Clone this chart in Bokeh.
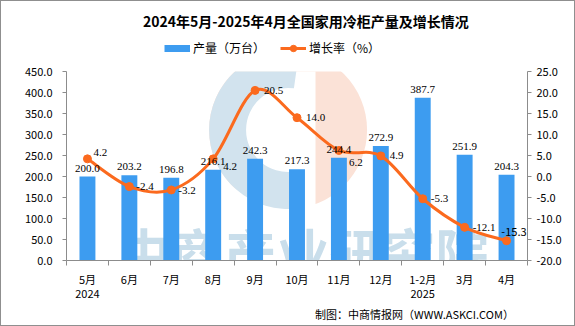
import numpy as np
from bokeh.plotting import figure
from bokeh.layouts import column
from bokeh.models import (Range1d, LinearAxis, FixedTicker, PrintfTickFormatter,
                          ColumnDataSource, LabelSet, Label, Legend, LegendItem)
from bokeh.embed import file_html
from bokeh.resources import INLINE

# ---------------- data ----------------
months = ["5月", "6月", "7月", "8月", "9月", "10月", "11月", "12月", "1-2月", "3月", "4月"]
years = ["2024", "", "", "", "", "", "", "", "2025", "", ""]
production = [200.0, 203.2, 196.8, 216.1, 242.3, 217.3, 244.4, 272.9, 387.7, 251.9, 204.3]
growth = [4.2, -2.4, -3.2, 4.2, 20.5, 14.0, 6.2, 4.9, -5.3, -12.1, -15.3]
left_ticks = [0, 50, 100, 150, 200, 250, 300, 350, 400, 450]
right_ticks = [-20, -15, -10, -5, 0, 5, 10, 15, 20, 25]

title_text = "2024年5月-2025年4月全国家用冷柜产量及增长情况"
source_text = "制图：中商情报网（WWW.ASKCI.COM）"
bar_name = "产量（万台）"
line_name = "增长率（%）"
watermark = "中商产业研究院"

FONT = "Noto Sans CJK SC"
BLUE = "#3d9cf0"
ORANGE = "#fb6a1e"
AXIS = "#8c8c8c"
W = 573

n = len(months)
xs = list(range(n))

# label nudges (screen px, upward positive) used to avoid label collisions
growth_label_dy = [6, 0, -1, -8, 0, 0, -12, 0, 0, 0, 0]
growth_label_dx = [6, 7, 7, 10, 9, 9, 10, 9, 8, 8, 7]


def strip(h):
    f = figure(width=W, height=h, output_backend="svg", toolbar_location=None,
               title_location=None, x_range=Range1d(0, W), y_range=Range1d(0, h),
               x_axis_location=None, y_axis_location=None,
               min_border=0, min_border_left=0, min_border_right=0,
               min_border_top=0, min_border_bottom=0)
    f.outline_line_color = None
    f.grid.visible = False
    f.background_fill_color = "white"
    f.border_fill_color = "white"
    return f


# ---------------- header: title + legend ----------------
HEAD_H = 56
head = strip(HEAD_H)
head.add_layout(Label(x=95, y=HEAD_H - 19, text=title_text, text_font=FONT,
                      text_font_size="14px", text_font_style="bold", text_color="black",
                      text_align="left", text_baseline="middle"))
proxy = ColumnDataSource(dict(x=[0.0], y=[np.nan]))
d_bar = head.line(x="x", y="y", source=proxy, line_color=BLUE, line_width=7, line_cap="butt")
d_line = head.line(x="x", y="y", source=proxy, line_color=ORANGE, line_width=3)
d_pt = head.scatter(x="x", y="y", source=proxy, size=8, fill_color=ORANGE, line_color=ORANGE)
leg_style = dict(orientation="horizontal", glyph_width=26, glyph_height=16, label_height=16,
                 label_standoff=3, spacing=0, padding=0, margin=0, border_line_color=None,
                 background_fill_alpha=0, label_text_font=FONT,
                 label_text_font_size="12px", label_text_color="black")
head.add_layout(Legend(items=[LegendItem(label=bar_name, renderers=[d_bar])],
                       location=(98, 1), **leg_style))
head.add_layout(Legend(items=[LegendItem(label=line_name, renderers=[d_line, d_pt])],
                       location=(214, 1), **leg_style))

# ---------------- main chart ----------------
MAIN_H = 246
fig = figure(width=W, height=MAIN_H, output_backend="svg", toolbar_location=None,
             title_location=None,
             x_range=Range1d(-0.5, n - 0.5), y_range=Range1d(0, 450),
             min_border_left=65, min_border_right=47, min_border_top=14,
             min_border_bottom=38)
fig.extra_y_ranges = {"r": Range1d(-20, 25)}
fig.outline_line_color = None
fig.grid.visible = False
fig.background_fill_color = "white"
fig.border_fill_color = "white"

# watermark logo (decoration)
cx_logo = (287 - 66) / 41.8 - 0.5
cy_logo = (265 - 131) / 194 * 450
fig.circle(x=[cx_logo], y=[cy_logo], radius=79, radius_units="screen",
           fill_color="#fbe2d7", line_color=None)
fig.rect(x=[cx_logo - 0.3], y=[cy_logo], width=80, height=170, width_units="screen",
         height_units="screen", fill_color="white", line_color=None)
fig.annular_wedge(x=[cx_logo], y=[cy_logo], inner_radius=42, outer_radius=79,
                  inner_radius_units="screen", outer_radius_units="screen",
                  start_angle=np.deg2rad(82), end_angle=np.deg2rad(278),
                  fill_color="#d2e3ee", line_color=None)
fig.add_layout(Label(x=51, y=10, x_units="screen", y_units="screen", text=watermark,
                     text_font=FONT, text_font_size="53px", text_font_style="bold",
                     text_color="#c9deeb", text_align="left", text_baseline="middle",
                     level="underlay"))

src = ColumnDataSource(dict(x=xs, prod=production, g=growth,
                            prod_lbl=[f"{v:.1f}" for v in production]))
fig.vbar(x="x", top="prod", width=0.38, source=src, fill_color=BLUE, line_color=None)

# smoothed growth line (bezier segments through the data points)
g = np.array(growth, dtype=float)
x = np.array(xs, dtype=float)
xp = np.concatenate([[x[0]], x, [x[-1]]])
gp = np.concatenate([[g[0]], g, [g[-1]]])
x0 = x[:-1]; y0 = g[:-1]; x1 = x[1:]; y1 = g[1:]
prev_x = xp[:-3]; prev_y = gp[:-3]
next_x = xp[3:]; next_y = gp[3:]
cx0 = x0 + (x1 - prev_x) / 6; cy0 = y0 + (y1 - prev_y) / 6
cx1 = x1 - (next_x - x0) / 6; cy1 = y1 - (next_y - y0) / 6
fig.bezier(x0=x0, y0=y0, x1=x1, y1=y1, cx0=cx0, cy0=cy0, cx1=cx1, cy1=cy1,
           line_color=ORANGE, line_width=3, y_range_name="r")
fig.scatter(x="x", y="g", source=src, size=8, fill_color=ORANGE, line_color=ORANGE,
            y_range_name="r")

# data labels
fig.add_layout(LabelSet(x="x", y="prod", text="prod_lbl", source=src, text_align="center",
                        text_baseline="bottom", y_offset=5, text_font=FONT,
                        text_font_size="11px", text_color="black"))
src_g = ColumnDataSource(dict(x=xs[:-1], g=growth[:-1],
                              g_lbl=[f"{v:.1f}" for v in growth[:-1]],
                              dx=growth_label_dx[:-1], dy=growth_label_dy[:-1]))
fig.add_layout(LabelSet(x="x", y="g", text="g_lbl", source=src_g, y_range_name="r",
                        text_align="left", text_baseline="middle",
                        x_offset="dx", y_offset="dy",
                        text_font=FONT, text_font_size="11px", text_color="black"))
fig.add_layout(Label(x=xs[-1], y=growth[-1], y_range_name="r", text=f"{growth[-1]:.1f}",
                     text_align="right", text_baseline="middle", x_offset=20, y_offset=9,
                     text_font=FONT, text_font_size="11px", text_color="black"))

# axes
xa = fig.xaxis[0]
xa.ticker = FixedTicker(ticks=xs, minor_ticks=[i - 0.5 for i in range(n + 1)])
xa.major_label_overrides = {i: (months[i] + ("\n" + years[i] if years[i] else ""))
                            for i in range(n)}
xa.major_tick_out = 0
xa.major_tick_in = 0
xa.minor_tick_out = 5
xa.minor_tick_in = 0
xa.minor_tick_line_color = AXIS
xa.axis_line_color = AXIS
xa.major_label_standoff = 5
xa.major_label_text_font = FONT
xa.major_label_text_font_size = "11px"
xa.major_label_text_line_height = 0.9
xa.major_label_text_color = "black"

ya = fig.yaxis[0]
ya.ticker = FixedTicker(ticks=left_ticks)
ya.formatter = PrintfTickFormatter(format="%.1f")
ya.major_tick_out = 4
ya.major_tick_in = 0
ya.minor_tick_line_color = None
ya.axis_line_color = AXIS
ya.major_tick_line_color = AXIS
ya.major_label_standoff = 10
ya.major_label_text_font = FONT
ya.major_label_text_font_size = "11px"
ya.major_label_text_color = "black"

ra = LinearAxis(y_range_name="r", ticker=FixedTicker(ticks=right_ticks),
                formatter=PrintfTickFormatter(format="%.1f"))
ra.major_tick_out = 4
ra.major_tick_in = 0
ra.minor_tick_line_color = None
ra.axis_line_color = AXIS
ra.major_tick_line_color = AXIS
ra.major_label_standoff = 5
ra.major_label_text_font = FONT
ra.major_label_text_font_size = "11px"
ra.major_label_text_color = "black"
fig.add_layout(ra, "right")

# ---------------- footer: source ----------------
FOOT_H = 324 - HEAD_H - MAIN_H
foot = strip(FOOT_H)
foot.add_layout(Label(x=309, y=FOOT_H - 10, text=source_text, text_font=FONT,
                      text_font_size="11px", text_color="black",
                      text_align="left", text_baseline="middle"))

p = column(head, fig, foot, spacing=0, styles={"border": "1px solid #8f8f8f"})

open("out.html", "w").write(file_html(p, INLINE))
